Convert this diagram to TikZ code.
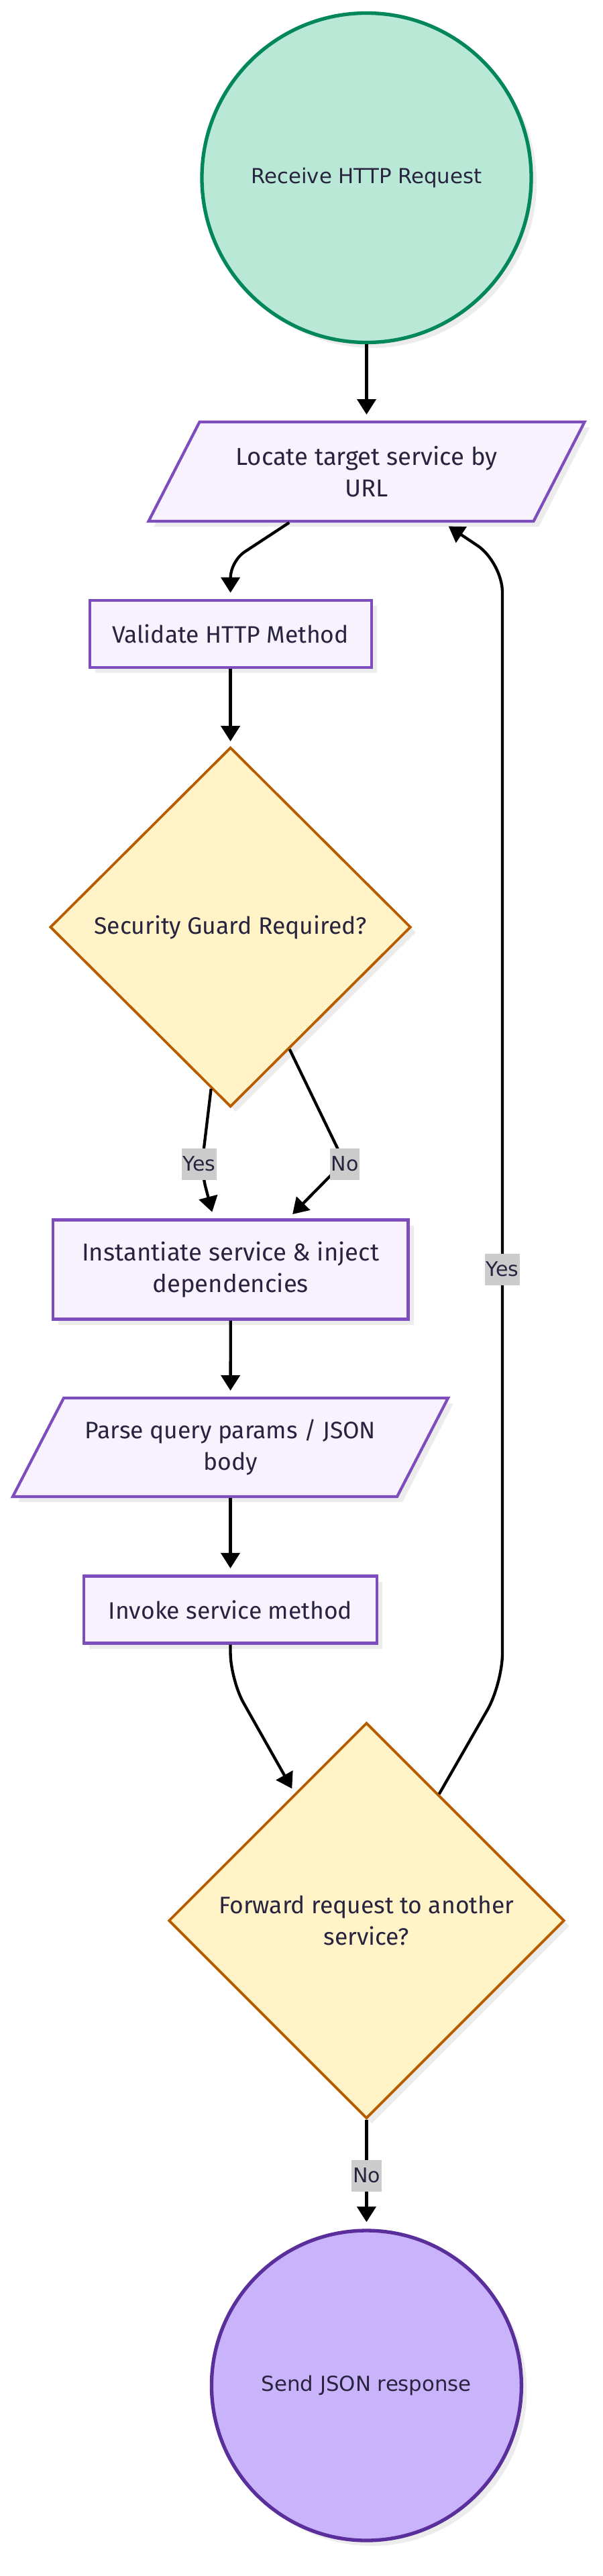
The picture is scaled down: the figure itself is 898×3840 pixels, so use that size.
\documentclass[tikz,border=0pt]{standalone}
\usepackage{fontspec}
\setmainfont{DejaVu Sans}
\newfontfamily\boxfont{Fira Sans}
\usetikzlibrary{shapes.geometric,arrows.meta,shadows,calc}
\definecolor{txtc}{HTML}{28243F}
\definecolor{startfill}{HTML}{B9E9D6}
\definecolor{startline}{HTML}{02875A}
\definecolor{procfill}{HTML}{F7F2FD}
\definecolor{procline}{HTML}{7E4DBD}
\definecolor{decfill}{HTML}{FFF3C7}
\definecolor{decline}{HTML}{B85C00}
\definecolor{endfill}{HTML}{C9B3FB}
\definecolor{endline}{HTML}{5A2F9C}
\definecolor{lblfill}{HTML}{CCCCCC}
\definecolor{shadowc}{HTML}{ECECEC}
\begin{document}
\begin{tikzpicture}[x=1pt,y=-1pt,
  shad/.style={drop shadow={shadow xshift=8pt,shadow yshift=-8pt,fill=shadowc,opacity=1}},
  termnode/.style={circle,shad,line width=5.3pt,inner sep=0pt,text=txtc,font=\fontsize{30.8}{40}\selectfont},
  procbox/.style={rectangle,shad,draw=procline,fill=procfill,line width=4.2pt,inner sep=0pt,text=txtc,align=center,font=\boxfont\fontsize{35.5}{47}\selectfont},
  iotext/.style={rectangle,inner sep=0pt,outer sep=2pt,minimum width=500pt,text=txtc,align=center,font=\boxfont\fontsize{35.5}{47}\selectfont},
  ioshape/.style={draw=procline,fill=procfill,line width=4.2pt,line join=miter},
  decbox/.style={diamond,shad,draw=decline,fill=decfill,line width=3.8pt,inner sep=0pt,text=txtc,align=center,font=\boxfont\fontsize{35.5}{47}\selectfont},
  lbl/.style={fill=lblfill,text=txtc,inner xsep=2pt,inner ysep=0pt,minimum height=47pt,font=\fontsize{30}{36}\selectfont},
  arr/.style={line width=4.3pt,draw=black,-{Triangle[width=28pt,length=23pt]}},
]
\useasboundingbox[fill=white] (0,0) rectangle (898,3840);

% start
\node[termnode,draw=startline,fill=startfill,minimum size=491pt] (c1) at (546.5,265) {Receive HTTP Request};

% Locate (parallelogram)
\fill[shadowc] (229.5,785) -- (803.5,785) -- (879.5,637) -- (305.5,637) -- cycle;
\draw[ioshape] (221.5,777) -- (795.5,777) -- (871.5,629) -- (297.5,629) -- cycle;
\node[iotext,minimum height=148pt,font=\boxfont\fontsize{36.5}{47}\selectfont] (loc) at (546.5,703) {Locate target service by\\URL};

% Validate
\node[procbox,minimum width=420pt,minimum height=100pt] (val) at (343.6,944.7) {Validate HTTP Method};

% Security diamond
\node[decbox,minimum width=538pt,minimum height=536pt] (sec) at (343.6,1382) {Security Guard Required?};

% Instantiate
\node[procbox,minimum width=529.5pt,minimum height=148pt,font=\boxfont\fontsize{36.5}{47}\selectfont] (inst) at (343.8,1892.5) {Instantiate service \& inject\\dependencies};

% Parse (parallelogram)
\fill[shadowc] (27,2239) -- (600,2239) -- (676,2092) -- (103,2092) -- cycle;
\draw[ioshape] (19,2231) -- (592,2231) -- (668,2084) -- (95,2084) -- cycle;
\node[iotext,minimum height=147pt] (par) at (343.5,2157.5) {Parse query params / JSON\\body};

% Invoke
\node[procbox,minimum width=437pt,minimum height=100pt] (inv) at (343.5,2399.5) {Invoke service method};

% Forward diamond
\node[decbox,minimum width=590pt,minimum height=590pt] (fwd) at (546.4,2863) {Forward request to another\\service?};

% end
\node[termnode,draw=endline,fill=endfill,minimum size=462pt] (snd) at (546.4,3556) {Send JSON response};

% connectors
\coordinate (k1) at (343.6,836.5);
\coordinate (k4) at (300,1745);
\coordinate (k5) at (513,1732);
\coordinate (k8) at (343.6,2504);
\coordinate (k9a) at (749,2510);
\coordinate (k9b) at (749,838);

\draw[arr,shorten >=9pt] (c1) -- (loc);
\draw[arr,rounded corners=25pt,shorten >=9pt] (loc) -- (k1) -- (val);
\draw[arr,shorten >=7pt] (val) -- (sec);
\draw[arr,rounded corners=25pt,shorten >=10pt] (sec) -- (k4) -- ([xshift=-25pt]inst.north);
\draw[arr,rounded corners=20pt,shorten >=9pt] (sec) -- (k5) -- ([xshift=86pt]inst.north);
\draw[arr,shorten >=9pt] (inst) -- (par);
\draw[arr,shorten >=9.5pt] (par) -- (inv);
\draw[arr,rounded corners=40pt,shorten >=8pt] (inv) -- (k8) -- (fwd);
\draw[arr,rounded corners=45pt,shorten >=10pt] (fwd) -- (k9a) -- (k9b) -- (loc);
\draw[arr,shorten >=10pt] (fwd) -- (snd);

% edge labels
\node[lbl] (ly1) at (297,1735) {Yes};
\node[lbl] (ln1) at (514,1735) {No};
\node[lbl] (ly2) at (749,1892) {Yes};
\node[lbl] (ln2) at (546.5,3243) {No};
\end{tikzpicture}
\end{document}
